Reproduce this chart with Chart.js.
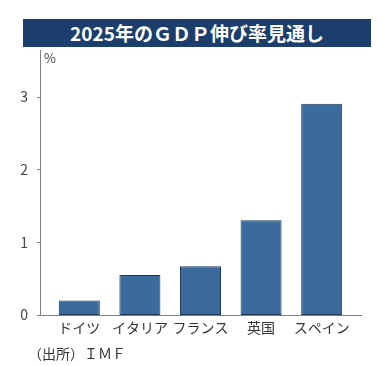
<!DOCTYPE html>
<html lang="ja">
<head>
<meta charset="utf-8">
<script src="https://cdn.jsdelivr.net/npm/chart.js@4"></script>
<style>
    html, body { margin: 0; padding: 0; background: #fff; }
    #wrap { position: relative; width: 390px; height: 366px; font-family: "Noto Sans CJK JP", sans-serif; }
    #titulo {
        position: absolute; left: 23px; top: 19px; width: 348px; height: 28px;
        background: #1c3e6c; color: #fff; font-weight: bold; font-size: 19px;
        line-height: 28px; text-align: center;
    }
    #unidad { position: absolute; left: 44px; top: 48px; font-size: 13px; color: #444; }
    #fuente { position: absolute; left: 28px; top: 343px; font-size: 14px; color: #333; }
    canvas { position: absolute; left: 0; top: 0; }
</style>
</head>
<body>
<div id="wrap">
    <canvas id="gdpChart" width="390" height="366"></canvas>
    <div id="titulo">2025年のＧＤＰ伸び率見通し</div>
    <div id="unidad">%</div>
    <div id="fuente">（出所）ＩＭＦ</div>
</div>
<script>
const paises = ["ドイツ", "イタリア", "フランス", "英国", "スペイン"];
const crecimiento = [0.2, 0.55, 0.67, 1.3, 2.9];
const marcasY = [0, 1, 2, 3];

// ejes dibujados a mano: la línea del eje sobresale del área de barras
const ejesPlugin = {
    id: "ejes",
    afterDatasetsDraw(chart) {
        const ctx = chart.ctx;
        const y = chart.scales.y;
        const base = Math.round(y.getPixelForValue(0)) + 0.5;
        ctx.save();
        ctx.strokeStyle = "#808080";
        ctx.lineWidth = 1;
        ctx.beginPath();
        ctx.moveTo(40.5, chart.chartArea.top);
        ctx.lineTo(40.5, base);
        ctx.lineTo(362, base);
        marcasY.forEach(v => {
            const py = Math.round(y.getPixelForValue(v)) + 0.5;
            ctx.moveTo(37, py);
            ctx.lineTo(40.5, py);
        });
        ctx.stroke();
        ctx.restore();
    }
};

new Chart(document.getElementById("gdpChart"), {
    type: "bar",
    data: {
        labels: paises,
        datasets: [{
            data: crecimiento,
            backgroundColor: "#3a6b9c",
            borderColor: "#1f3a58",
            borderWidth: 1,
            borderSkipped: false,
            categoryPercentage: 1,
            barPercentage: 0.677
        }]
    },
    options: {
        responsive: false,
        animation: false,
        layout: { padding: { left: 0, right: 38, top: 50, bottom: 0 } },
        plugins: { legend: { display: false }, title: { display: false }, tooltip: { enabled: false } },
        scales: {
            x: {
                grid: { display: false },
                border: { display: false },
                ticks: {
                    color: "#333",
                    padding: -4,
                    maxRotation: 0,
                    font: { family: "'Noto Sans CJK JP'", size: 14 }
                },
                afterFit: s => { s.height = 51; }
            },
            y: {
                min: 0,
                max: 3.64,
                grid: { display: false },
                border: { display: false },
                ticks: {
                    stepSize: 1,
                    includeBounds: false,
                    color: "#444",
                    padding: 13,
                    font: { family: "'Noto Sans CJK JP'", size: 14 }
                },
                afterFit: s => { s.width = 49; }
            }
        }
    },
    plugins: [ejesPlugin]
});
</script>
</body>
</html>
